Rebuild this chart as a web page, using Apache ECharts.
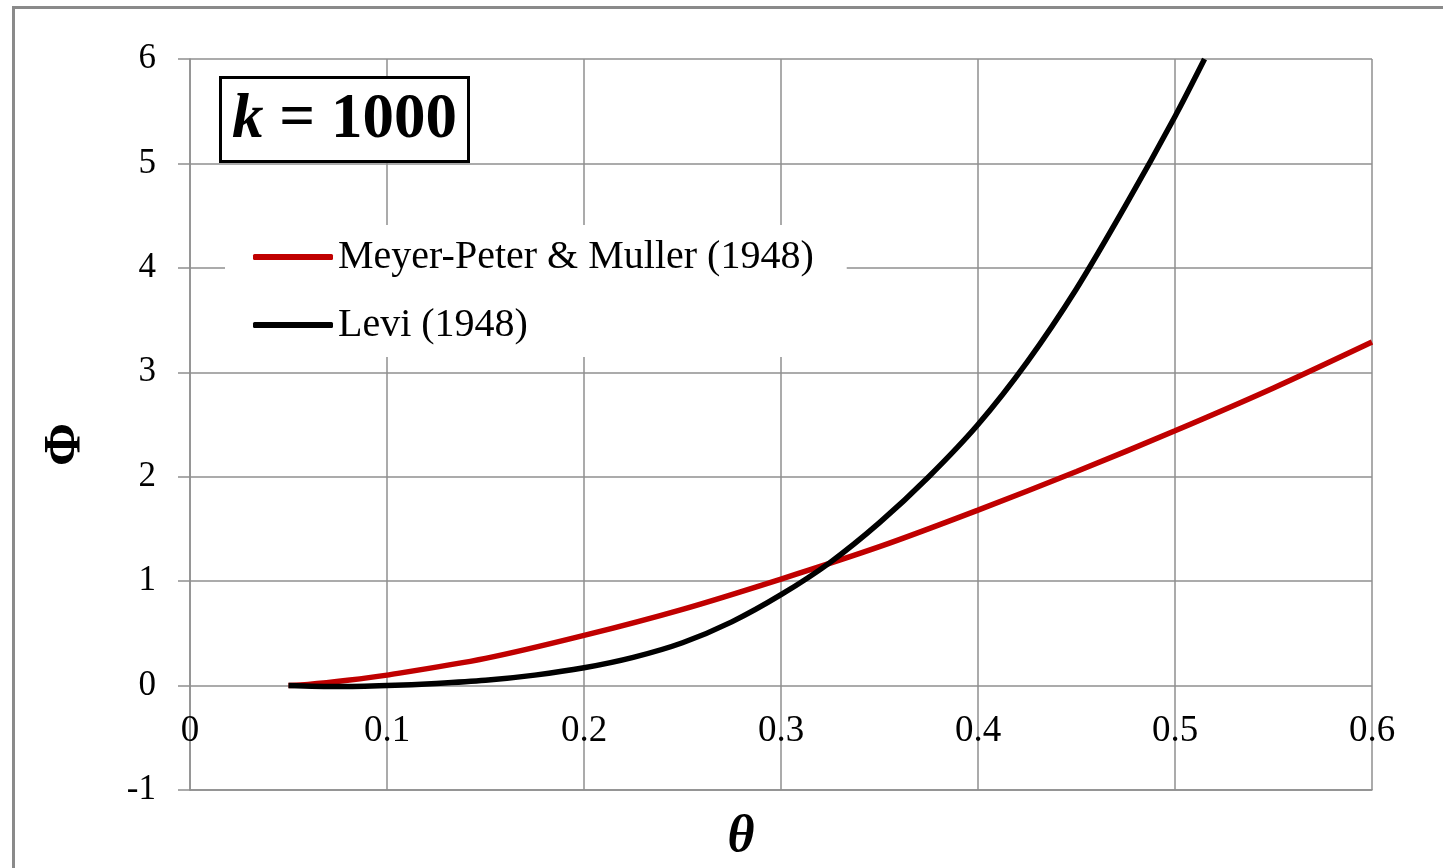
<!DOCTYPE html>
<html>
<head>
<meta charset="utf-8">
<script src="https://cdn.jsdelivr.net/npm/echarts@6/dist/echarts.min.js"></script>
<style>
  html, body { margin: 0; padding: 0; background: #fff; }
  #container { width: 1443px; height: 868px; }
</style>
</head>
<body>
<div id="container"></div>
<script>
// values
var seriesNames = ['Meyer-Peter & Muller (1948)', 'Levi (1948)'];
var seriesColors = ['#c00000', '#000000'];

var thetaMPM = [0.05, 0.06, 0.08, 0.1, 0.15, 0.2, 0.25, 0.3, 0.35, 0.4, 0.45, 0.5, 0.55, 0.6];
var phiMPM   = [0.0, 0.01, 0.05, 0.10, 0.26, 0.48, 0.73, 1.02, 1.33, 1.68, 2.05, 2.44, 2.85, 3.29];

var thetaLevi = [0.05, 0.075, 0.1, 0.125, 0.15, 0.175, 0.2, 0.225, 0.25, 0.275, 0.3, 0.325, 0.35, 0.375, 0.4, 0.425, 0.45, 0.475, 0.5, 0.515];
var phiLevi   = [0.0, -0.01, 0.0, 0.02, 0.05, 0.10, 0.17, 0.27, 0.41, 0.61, 0.87, 1.18, 1.56, 2.0, 2.5, 3.1, 3.8, 4.6, 5.45, 6.0];

var xTicks = { min: 0, max: 0.6, step: 0.1 };
var yTicks = { min: -1, max: 6, step: 1 };

function pairs(xs, ys) {
    return xs.map(function (x, i) { return [x, ys[i]]; });
}

var font = '"Liberation Serif", "Times New Roman", serif';
var gridGray = '#8f8f8f';

var myChart = echarts.init(document.getElementById('container'), null, { renderer: 'canvas' });

var option = {
    animation: false,
    backgroundColor: '#fff',
    graphic: [{
        type: 'rect',
        left: 11, top: 5,
        shape: { width: 1440, height: 900 },
        style: { fill: 'none', stroke: '#8a8a8a', lineWidth: 3 },
        z: -1
    }],
    title: {
        text: '{i|k} = 1000',
        left: 220,
        top: 77,
        borderColor: '#000',
        borderWidth: 3,
        padding: [12, 12, 10, 12],
        backgroundColor: '#fff',
        textStyle: {
            fontFamily: font,
            fontSize: 63,
            fontWeight: 'bold',
            color: '#000',
            rich: {
                i: { fontFamily: font, fontSize: 63, fontWeight: 'bold', fontStyle: 'italic', color: '#000' }
            }
        }
    },
    legend: {
        orient: 'vertical',
        left: 225,
        top: 225,
        backgroundColor: '#fff',
        padding: [12, 33, 12, 28],
        itemWidth: 80,
        itemHeight: 6,
        itemGap: 28,
        icon: 'roundRect',
        textStyle: { fontFamily: font, fontSize: 40, color: '#000', lineHeight: 40 },
        data: seriesNames
    },
    grid: { left: 190, right: 71, top: 59, bottom: 78, outerBoundsMode: 'none', containLabel: false },
    xAxis: {
        type: 'value',
        min: xTicks.min, max: xTicks.max, interval: xTicks.step,
        name: 'θ',
        nameLocation: 'middle',
        nameGap: 22,
        nameMoveOverlap: false,
        nameTextStyle: { fontFamily: font, fontSize: 52, fontWeight: 'bold', fontStyle: 'italic', color: '#000', padding: [0, 80, 0, 0] },
        axisLine: { onZero: false, lineStyle: { color: gridGray, width: 1.5 } },
        axisTick: { show: false },
        axisLabel: { fontFamily: font, fontSize: 37, color: '#000', inside: true, margin: 40 },
        splitLine: { lineStyle: { color: gridGray, width: 1.5 } }
    },
    yAxis: {
        type: 'value',
        min: yTicks.min, max: yTicks.max, interval: yTicks.step,
        name: 'Φ',
        nameLocation: 'middle',
        nameRotate: 90,
        nameGap: 97,
        nameMoveOverlap: false,
        nameTextStyle: { fontFamily: font, fontSize: 52, fontWeight: 'bold', color: '#000', padding: [0, 40, 0, 0] },
        axisLine: { show: true, lineStyle: { color: gridGray, width: 1.5 } },
        axisTick: { show: true, inside: false, length: 12, lineStyle: { color: gridGray, width: 1.5 } },
        axisLabel: { fontFamily: font, fontSize: 35, color: '#000', margin: 34 },
        splitLine: { lineStyle: { color: gridGray, width: 1.5 } }
    },
    series: [
        {
            name: seriesNames[0],
            type: 'line',
            data: pairs(thetaMPM, phiMPM),
            smooth: 0.3,
            showSymbol: false,
            color: seriesColors[0],
            lineStyle: { width: 5.5, color: seriesColors[0] }
        },
        {
            name: seriesNames[1],
            type: 'line',
            data: pairs(thetaLevi, phiLevi),
            smooth: 0.3,
            showSymbol: false,
            color: seriesColors[1],
            lineStyle: { width: 5.5, color: seriesColors[1] }
        }
    ]
};

myChart.setOption(option);
window.addEventListener('resize', myChart.resize);
</script>
</body>
</html>
